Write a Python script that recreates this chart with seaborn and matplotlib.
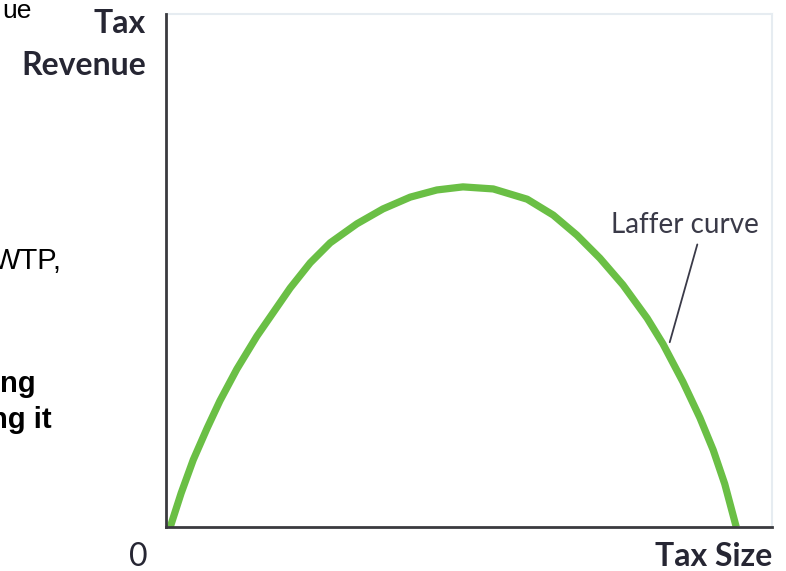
import numpy as np
import pandas as pd
import matplotlib
matplotlib.use("Agg")
import matplotlib.pyplot as plt
import seaborn as sns

# Laffer curve (axes run 0..100 on both sides)
tax_size = [0.7, 2.5, 4.5, 6.8, 8.9, 11.7, 15.0, 20.5, 23.8, 27.1, 31.5,
            35.8, 40.3, 44.7, 49.0, 54.0, 59.6, 63.9, 67.8, 71.6, 75.4,
            79.4, 82.0, 85.3, 88.1, 90.3, 92.2, 94.1]
tax_revenue = [0.0, 6.6, 13.1, 19.3, 24.6, 30.8, 37.2, 46.6, 51.5, 55.4, 59.1,
               62.0, 64.3, 65.7, 66.3, 65.9, 63.9, 60.8, 56.9, 52.4, 47.2,
               40.7, 35.7, 28.3, 21.3, 15.0, 8.4, 0.0]

curve_label = "Laffer curve"
y_label = ["Tax", "Revenue"]
x_label = "Tax Size"
origin_label = "0"

# text fragments cut off at the left edge of the slide
side_texts = [("ue", 18, "normal", 19), ("WTP,", 269, "normal", 21),
              ("ng", 392, "bold", 21), ("ng it", 428, "bold", 21)]
side_right = [32, 62, 36, 52]

W, H = 786, 571
sns.set_theme(style="white")
label_font = ["Lato", "DejaVu Sans"]
dark = "#262633"

fig = plt.figure(figsize=(W / 100, H / 100), dpi=100)
ax = fig.add_axes([166 / W, 1 - 527 / H, (772 - 166) / W, (527 - 14) / H])

df = pd.DataFrame({"size": tax_size, "revenue": tax_revenue})
sns.lineplot(data=df, x="size", y="revenue", sort=False, estimator=None,
             color="#6abf45", linewidth=5.2, ax=ax, solid_capstyle="butt",
             solid_joinstyle="round")

ax.set_xlim(0, 100)
ax.set_ylim(0, 100)
ax.set_xticks([])
ax.set_yticks([])
ax.set_xlabel("")
ax.set_ylabel("")
for s in ["left", "bottom"]:
    ax.spines[s].set_color("#3a3a3f")
    ax.spines[s].set_linewidth(2.0)
    ax.spines[s].set_zorder(3)
for s in ["top", "right"]:
    ax.spines[s].set_color("#e6ecf1")
    ax.spines[s].set_linewidth(1.5)

# curve label with leader line
ax.text(85.6, 57.3, curve_label, ha="center", va="baseline", fontsize=20,
        color="#3a3a48", family=label_font)
ax.annotate("", xy=(83.0, 35.5), xytext=(87.8, 55.6),
            arrowprops=dict(arrowstyle="-", color="#3a3a48", lw=1.3))

# axis labels
fig.text(146 / W, 1 - 33 / H, y_label[0], ha="right", va="baseline",
         fontsize=23, fontweight="bold", color=dark, family=label_font)
fig.text(146 / W, 1 - 75 / H, y_label[1], ha="right", va="baseline",
         fontsize=23, fontweight="bold", color=dark, family=label_font)
fig.text(772 / W, 1 - 566 / H, x_label, ha="right", va="baseline",
         fontsize=23, fontweight="bold", color=dark, family=label_font)
fig.text(138 / W, 1 - 566 / H, origin_label, ha="center", va="baseline",
         fontsize=23, color=dark, family=label_font)

for (txt, base, weight, size), xr in zip(side_texts, side_right):
    fig.text(xr / W, 1 - base / H, txt, ha="right", va="baseline",
             fontsize=size, fontweight=weight, color="black",
             family=["Liberation Sans", "DejaVu Sans"])

fig.savefig("out.png", dpi=100)
